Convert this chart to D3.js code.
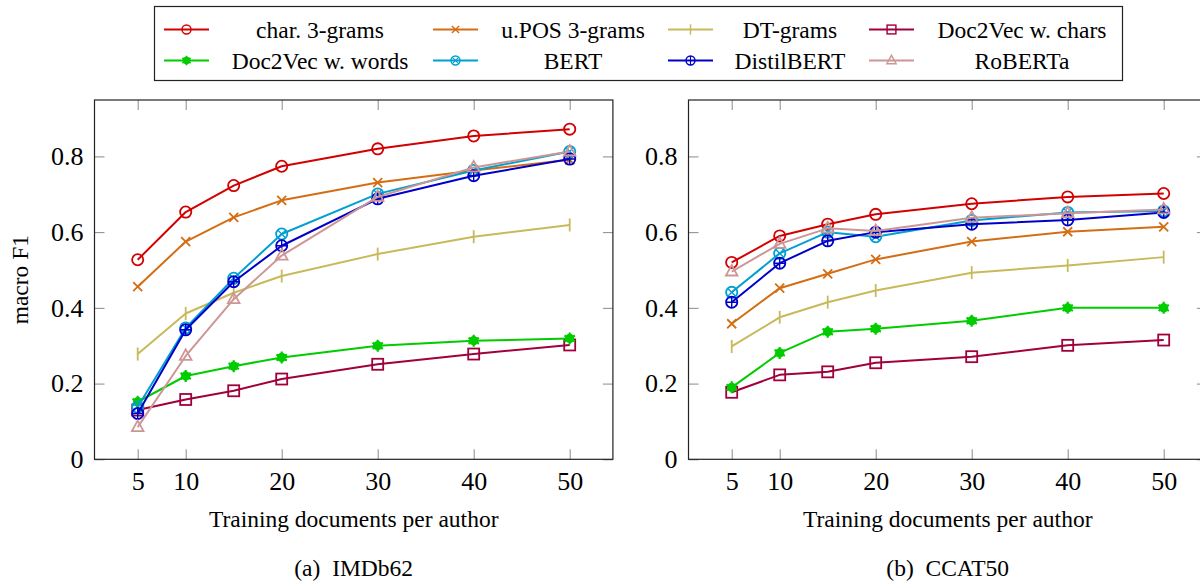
<!DOCTYPE html>
<html>
<head>
<meta charset="utf-8">
<script src="https://cdn.jsdelivr.net/npm/d3@7"></script>
<style>
	body { margin:0; background:#fff; }
	svg { display:block; font-family:"Liberation Serif","Times New Roman",serif; }
	svg text { font-family:"Liberation Serif","Times New Roman",serif; }
	.tick line { stroke:#8a8a8a; stroke-width:1; }
	.domain { display:none; }
</style>
</head>
<body>
<div id="chart"></div>
<script>
// x values shared by both panels
var docsPerAuthor = [5, 10, 15, 20, 30, 40, 50];
var xTicks = [5, 10, 20, 30, 40, 50];
var yTicks = [0, 0.2, 0.4, 0.6, 0.8];

var seriesNames = ["char. 3-grams", "u.POS 3-grams", "DT-grams", "Doc2Vec w. chars",
	"Doc2Vec w. words", "BERT", "DistilBERT", "RoBERTa"];

// (a) IMDb62
var imdbChar     = [0.527, 0.653, 0.723, 0.774, 0.820, 0.854, 0.872];
var imdbPos      = [0.456, 0.575, 0.639, 0.684, 0.731, 0.763, 0.791];
var imdbDt       = [0.278, 0.385, 0.440, 0.484, 0.542, 0.588, 0.619];
var imdbD2vChars = [0.130, 0.158, 0.181, 0.212, 0.251, 0.278, 0.302];
var imdbD2vWords = [0.152, 0.220, 0.246, 0.269, 0.300, 0.313, 0.319];
var imdbBert     = [0.138, 0.347, 0.478, 0.595, 0.701, 0.763, 0.813];
var imdbDistil   = [0.121, 0.342, 0.469, 0.564, 0.688, 0.749, 0.793];
var imdbRoberta  = [0.085, 0.273, 0.423, 0.538, 0.693, 0.771, 0.813];

// (b) CCAT50
var ccatChar     = [0.520, 0.590, 0.621, 0.647, 0.675, 0.693, 0.702];
var ccatPos      = [0.358, 0.452, 0.490, 0.528, 0.575, 0.601, 0.614];
var ccatDt       = [0.298, 0.375, 0.415, 0.446, 0.493, 0.512, 0.534];
var ccatD2vChars = [0.177, 0.223, 0.231, 0.255, 0.271, 0.301, 0.315];
var ccatD2vWords = [0.190, 0.281, 0.337, 0.345, 0.366, 0.400, 0.400];
var ccatBert     = [0.441, 0.544, 0.600, 0.588, 0.631, 0.652, 0.656];
var ccatDistil   = [0.415, 0.518, 0.577, 0.600, 0.621, 0.632, 0.652];
var ccatRoberta  = [0.496, 0.569, 0.610, 0.603, 0.638, 0.650, 0.660];

var colors = ["#d20000", "#d46e14", "#c8b95a", "#a0003c", "#00cc00", "#00a0d2", "#0000c8", "#cd9696"];
var marks  = ["circle", "x", "bar", "square", "asterisk", "otimes", "oplus", "triangle"];

var W = 1200, H = 584;
var svg = d3.select("#chart").append("svg").attr("width", W).attr("height", H);

function drawMark(g, shape, color){
	g.attr("stroke", color).attr("stroke-width", 1.8).attr("fill", "none");
	var r = 5.6;
	if(shape=="circle"){
		g.append("circle").attr("r", r);
	} else if(shape=="x"){
		g.append("path").attr("d", "M-4.5,-4.5L4.5,4.5M-4.5,4.5L4.5,-4.5");
	} else if(shape=="bar"){
		g.append("path").attr("d", "M0,-6.5V6.5");
	} else if(shape=="square"){
		g.append("rect").attr("x", -5.5).attr("y", -5.5).attr("width", 11).attr("height", 11);
	} else if(shape=="asterisk"){
		g.append("circle").attr("r", 3.8).attr("fill", color);
		g.append("path").attr("stroke-width", 2.2)
			.attr("d", "M0,-6V6M-5.2,-3L5.2,3M-5.2,3L5.2,-3");
	} else if(shape=="otimes"){
		g.append("circle").attr("r", r);
		g.append("path").attr("stroke-width", 1.4).attr("d", "M-3.9,-3.9L3.9,3.9M-3.9,3.9L3.9,-3.9");
	} else if(shape=="oplus"){
		g.append("circle").attr("r", r);
		g.append("path").attr("stroke-width", 1.4).attr("d", "M0,-5.6V5.6M-5.6,0H5.6");
	} else if(shape=="triangle"){
		g.append("path").attr("d", "M0,-6.5L5.8,4L-5.8,4Z");
	}
}

function drawPanel(left, right, series, caption, showYLabel){
	var top = 100, bottom = 459.3;
	var x = d3.scaleLinear().domain([0.5, 54.5]).range([left, right]);
	var y = d3.scaleLinear().domain([0, 0.949]).range([bottom, top]);
	var g = svg.append("g");

	var fmt = function(d){ return d === 0 ? "0" : d3.format(".1f")(d); };

	// ticks on all four sides, pointing inward
	g.append("g").attr("transform", "translate(0," + bottom + ")")
		.call(d3.axisBottom(x).tickValues(xTicks).tickSizeInner(-10).tickSizeOuter(0).tickPadding(12))
		.attr("font-family", null)
		.selectAll("text").attr("font-size", "26px").attr("fill", "#000");
	g.append("g").attr("transform", "translate(0," + top + ")")
		.call(d3.axisTop(x).tickValues(xTicks).tickSizeInner(-10).tickSizeOuter(0).tickFormat(""));
	g.append("g").attr("transform", "translate(" + left + ",0)")
		.call(d3.axisLeft(y).tickValues(yTicks).tickSizeInner(-10).tickSizeOuter(0).tickPadding(11).tickFormat(fmt))
		.attr("font-family", null)
		.selectAll("text").attr("font-size", "26px").attr("fill", "#000");
	g.append("g").attr("transform", "translate(" + right + ",0)")
		.call(d3.axisRight(y).tickValues(yTicks).tickSizeInner(-10).tickSizeOuter(0).tickFormat(""));

	g.append("rect")
		.attr("x", left).attr("y", top)
		.attr("width", right - left).attr("height", bottom - top)
		.attr("fill", "none").attr("stroke", "#222").attr("stroke-width", 1.2);

	var line = d3.line()
		.x(function(d, i){ return x(docsPerAuthor[i]); })
		.y(function(d){ return y(d); });

	series.forEach(function(vals, k){
		g.append("path").datum(vals)
			.attr("d", line)
			.attr("fill", "none")
			.attr("stroke", colors[k])
			.attr("stroke-width", 2)
			.attr("stroke-linejoin", "round");
		vals.forEach(function(v, i){
			var m = g.append("g").attr("transform", "translate(" + x(docsPerAuthor[i]) + "," + y(v) + ")");
			drawMark(m, marks[k], colors[k]);
		});
	});

	var cx = (left + right) / 2;
	g.append("text")
		.attr("x", cx).attr("y", 527)
		.attr("text-anchor", "middle")
		.attr("font-size", "23.5px")
		.text("Training documents per author");
	g.append("text")
		.attr("x", cx).attr("y", 576)
		.attr("text-anchor", "middle")
		.attr("font-size", "23.5px")
		.attr("xml:space", "preserve")
		.text(caption);
	if(showYLabel){
		g.append("text")
			.attr("transform", "translate(28," + ((top + bottom) / 2) + ") rotate(-90)")
			.attr("text-anchor", "middle")
			.attr("font-size", "23.5px")
			.text("macro F1");
	}
}

drawPanel(94.5, 612.9,
	[imdbChar, imdbPos, imdbDt, imdbD2vChars, imdbD2vWords, imdbBert, imdbDistil, imdbRoberta],
	"(a)  IMDb62", true);
drawPanel(688.5, 1206.9,
	[ccatChar, ccatPos, ccatDt, ccatD2vChars, ccatD2vWords, ccatBert, ccatDistil, ccatRoberta],
	"(b)  CCAT50", false);

// legend, 4 columns x 2 rows
var legend = svg.append("g");
legend.append("rect")
	.attr("x", 154.5).attr("y", 6.5).attr("width", 968).attr("height", 74)
	.attr("fill", "#fff").attr("stroke", "#222").attr("stroke-width", 1.2);
var colLine = [164, 433, 668, 869];
var colText = [320, 573, 790, 1022];
var rowY = [29.5, 60.5];
seriesNames.forEach(function(name, k){
	var c = k % 4, r = Math.floor(k / 4);
	legend.append("line")
		.attr("x1", colLine[c]).attr("x2", colLine[c] + 45)
		.attr("y1", rowY[r]).attr("y2", rowY[r])
		.attr("stroke", colors[k]).attr("stroke-width", 2);
	drawMark(legend.append("g").attr("transform", "translate(" + (colLine[c] + 22.5) + "," + rowY[r] + ") scale(0.8)"), marks[k], colors[k]);
	legend.append("text")
		.attr("x", colText[c]).attr("y", rowY[r] + 8)
		.attr("text-anchor", "middle")
		.attr("font-size", "23.5px")
		.text(name);
});
</script>
</body>
</html>
